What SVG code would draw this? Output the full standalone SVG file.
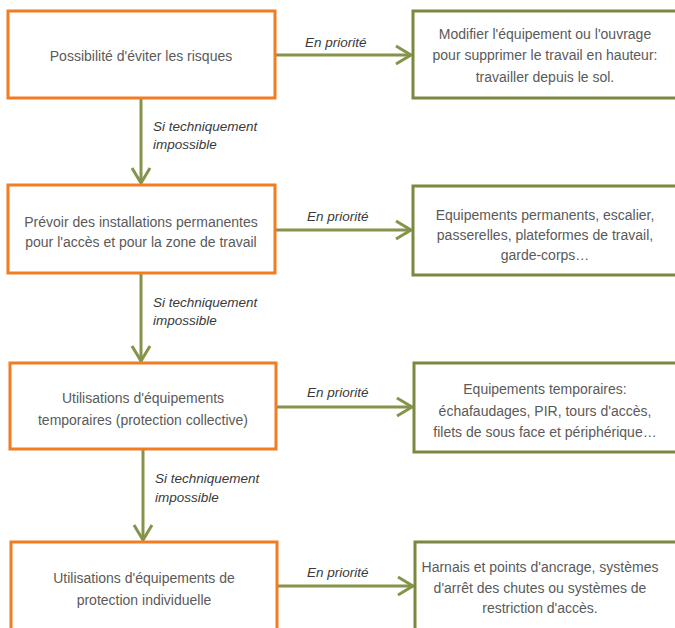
<svg xmlns="http://www.w3.org/2000/svg" width="675" height="628" viewBox="0 0 675 628">
  <style>
    .step rect { fill: #ffffff; stroke: #F07D22; stroke-width: 3; }
    .result rect { fill: #ffffff; stroke: #7A8840; stroke-width: 3; }
    .txt { font-family: "Liberation Sans", Arial, sans-serif; font-size: 14px; fill: #5a5a5a; text-anchor: middle; }
    .lbl { font-family: "Liberation Sans", Arial, sans-serif; font-size: 13.5px; font-style: italic; fill: #3a3a3a; }
    .link { stroke: #84944A; stroke-width: 3; fill: none; marker-end: url(#chev); }
  </style>
  <defs>
    <marker id="chev" markerUnits="userSpaceOnUse" markerWidth="24" markerHeight="24" refX="0" refY="0" viewBox="-18 -12 20 24" orient="auto">
      <path d="M-15,-9 L0,0 L-15,9" fill="none" stroke="#84944A" stroke-width="3" stroke-linejoin="miter"/>
    </marker>
  </defs>

  <!-- connectors -->
  <g id="connectors">
    <line class="link" x1="275" y1="55" x2="411" y2="55"/>
    <line class="link" x1="275" y1="230" x2="411" y2="230"/>
    <line class="link" x1="276" y1="407" x2="412" y2="407"/>
    <line class="link" x1="277" y1="586" x2="413" y2="586"/>
    <line class="link" x1="141" y1="98" x2="141" y2="183"/>
    <line class="link" x1="141" y1="273" x2="141" y2="361"/>
    <line class="link" x1="143" y1="449" x2="143" y2="540"/>
    <text class="lbl" x="305" y="47">En priorité</text>
    <text class="lbl" x="307" y="221">En priorité</text>
    <text class="lbl" x="307" y="397">En priorité</text>
    <text class="lbl" x="307" y="577">En priorité</text>
    <text class="lbl" x="153" y="131">Si techniquement</text>
    <text class="lbl" x="153" y="149">impossible</text>
    <text class="lbl" x="153" y="307">Si techniquement</text>
    <text class="lbl" x="153" y="325">impossible</text>
    <text class="lbl" x="155" y="483">Si techniquement</text>
    <text class="lbl" x="155" y="502">impossible</text>
  </g>

  <!-- measures, in order of priority -->
  <g id="step1" class="step">
    <rect x="8" y="11" width="267" height="87"/>
    <text class="txt" x="141" y="61">Possibilité d'éviter les risques</text>
  </g>
  <g id="step2" class="step">
    <rect x="8" y="185" width="267" height="88"/>
    <text class="txt" x="141" y="227">Prévoir des installations permanentes</text>
    <text class="txt" x="141" y="247">pour l'accès et pour la zone de travail</text>
  </g>
  <g id="step3" class="step">
    <rect x="10" y="363" width="266" height="86"/>
    <text class="txt" x="143" y="403">Utilisations d'équipements</text>
    <text class="txt" x="143" y="425">temporaires (protection collective)</text>
  </g>
  <g id="step4" class="step">
    <rect x="11" y="542" width="266" height="100"/>
    <text class="txt" x="144" y="583">Utilisations d'équipements de</text>
    <text class="txt" x="144" y="605">protection individuelle</text>
  </g>

  <!-- corresponding solutions -->
  <g id="result1" class="result">
    <rect x="413" y="11" width="270" height="87"/>
    <text class="txt" x="545" y="39">Modifier l'équipement ou l'ouvrage</text>
    <text class="txt" x="545" y="60">pour supprimer le travail en hauteur:</text>
    <text class="txt" x="545" y="82">travailler depuis le sol.</text>
  </g>
  <g id="result2" class="result">
    <rect x="413" y="186" width="270" height="89"/>
    <text class="txt" x="545" y="220">Equipements permanents, escalier,</text>
    <text class="txt" x="545" y="240">passerelles, plateformes de travail,</text>
    <text class="txt" x="545" y="260">garde-corps…</text>
  </g>
  <g id="result3" class="result">
    <rect x="414" y="363" width="270" height="89"/>
    <text class="txt" x="545" y="394">Equipements temporaires:</text>
    <text class="txt" x="545" y="416">échafaudages, PIR, tours d'accès,</text>
    <text class="txt" x="545" y="437">filets de sous face et périphérique…</text>
  </g>
  <g id="result4" class="result">
    <rect x="415" y="542" width="270" height="100"/>
    <text class="txt" x="540" y="572">Harnais et points d'ancrage, systèmes</text>
    <text class="txt" x="540" y="593">d'arrêt des chutes ou systèmes de</text>
    <text class="txt" x="540" y="613">restriction d'accès.</text>
  </g>
</svg>
